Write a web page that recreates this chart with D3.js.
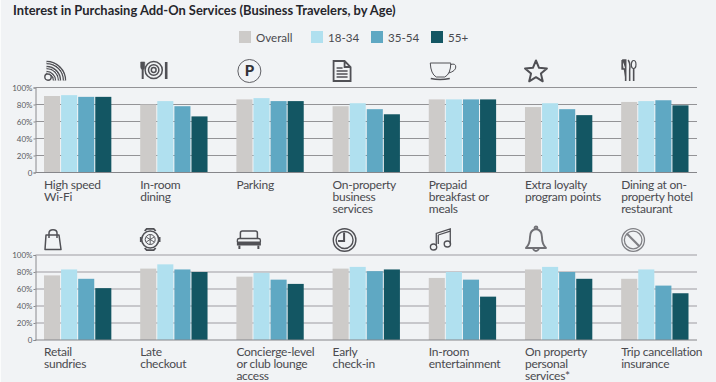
<!DOCTYPE html>
<html>
<head>
<meta charset="utf-8">
<script src="https://cdn.jsdelivr.net/npm/d3@7"></script>
<style>
    html, body { margin: 0; padding: 0; background: #f1f3f5; overflow: hidden; }
    svg { display: block; }
    text { font-family: Lato, sans-serif; }
</style>
</head>
<body>
<div id="chart"></div>
<script>
const seriesNames = ["Overall", "18-34", "35-54", "55+"];
const colors = ["#cdcbc9", "#b0e0ef", "#5fa8c3", "#135663"];
const yTicks = [0, 20, 40, 60, 80, 100];

const topLabels = [
    ["High speed", "Wi-Fi"],
    ["In-room", "dining"],
    ["Parking"],
    ["On-property", "business", "services"],
    ["Prepaid", "breakfast or", "meals"],
    ["Extra loyalty", "program points"],
    ["Dining at on-", "property hotel", "restaurant"]
];
const topValues = [
    [90, 91, 89, 89],
    [80, 84, 78, 66],
    [86, 87.5, 84, 84],
    [78, 81.5, 74.5, 68.5],
    [86, 86, 86, 86],
    [77, 81.5, 74.5, 67.5],
    [83, 84, 85, 79]
];
const bottomLabels = [
    ["Retail", "sundries"],
    ["Late", "checkout"],
    ["Concierge-level", "or club lounge", "access"],
    ["Early", "check-in"],
    ["In-room", "entertainment"],
    ["On property", "personal", "services*"],
    ["Trip cancellation", "insurance"]
];
const bottomValues = [
    [76, 83, 72, 61],
    [84, 89, 83, 80],
    [74.5, 79, 71, 66],
    [84, 86, 81, 83],
    [73, 80, 71, 51],
    [83, 86, 80, 72],
    [72, 83, 64, 55]
];

const width = 716, height = 382;
const ink = "#4a4a4f";
const bg = "#f1f3f5";

const svg = d3.select("#chart").append("svg")
    .attr("width", width)
    .attr("height", height);

svg.append("rect").attr("width", width).attr("height", height).attr("fill", bg);
svg.append("rect").attr("width", 1).attr("height", height).attr("fill", "#fbfcfc");

svg.append("text")
    .attr("x", 13)
    .attr("y", 15)
    .attr("font-size", 12.9)
    .attr("font-weight", 700)
    .attr("fill", "#26262c")
    .text("Interest in Purchasing Add-On Services (Business Travelers, by Age)");

// Legend
const legendX = [239, 311, 371, 431];
const legend = svg.append("g").selectAll("g")
    .data(seriesNames)
    .enter().append("g")
    .attr("transform", (d, i) => `translate(${legendX[i]},31)`);
legend.append("rect")
    .attr("width", 12).attr("height", 12)
    .attr("fill", (d, i) => colors[i]);
legend.append("text")
    .attr("x", 17).attr("y", 11)
    .attr("font-size", 11.6)
    .attr("fill", ink)
    .text(d => d);

// Icons are drawn in their own local pixels, origin at the top-left of the icon
const stroke = (g, w, color) => g.attr("fill", "none").attr("stroke", color || "#505055").attr("stroke-width", w || 1.4);
const icons = {
    wifi(g) {
        stroke(g, 1.4);
        g.append("circle").attr("cx", 4).attr("cy", 16).attr("r", 3.2);
        [8, 13, 18].forEach(r => {
            const arc = `M2.5 ${19.5 - r} A${r} ${r} 0 0 1 ${2.5 + r} 19.5`;
            g.append("path").attr("d", arc).attr("stroke-width", 3.4);
            g.append("path").attr("d", arc).attr("stroke-width", 1).attr("stroke", bg);
        });
    },
    plate(g) {
        stroke(g, 1.5);
        g.append("circle").attr("cx", 13.5).attr("cy", 9).attr("r", 8.6);
        g.append("circle").attr("cx", 13.5).attr("cy", 9).attr("r", 5.2);
        g.append("circle").attr("cx", 13.5).attr("cy", 9).attr("r", 2.4);
        g.append("path").attr("d", "M.5 1V6Q.5 8.5 2.5 8.5Q4.5 8.5 4.5 6V1Z").attr("fill", "#505055").attr("stroke-width", .6);
        g.append("path").attr("d", "M2.5 8V18").attr("stroke-width", 2);
        g.append("path").attr("d", "M26 1V18").attr("stroke-width", 2.6);
    },
    parking(g) {
        stroke(g, 1, "#606065");
        g.append("circle").attr("cx", 12).attr("cy", 12).attr("r", 11.5);
        g.append("text").attr("x", 12).attr("y", 17).attr("text-anchor", "middle")
            .attr("font-size", 15).attr("font-weight", 900).attr("fill", "#333338").attr("stroke", "none").text("P");
    },
    doc(g) {
        stroke(g, 1.8);
        g.append("path").attr("d", "M1 1H12L18 7V21H1ZM12 1V7H18");
        g.append("path").attr("d", "M4 8H10M4 11H15M4 14H15M4 17H15").attr("stroke-width", 1.3);
    },
    cup(g) {
        stroke(g, 1);
        g.append("path").attr("d", "M0.5 1H21Q21 12 15 15H6.5Q1 12 .5 1Z");
        g.append("path").attr("d", "M21 2.5Q26 1 26 5Q26 9 19 11");
        g.append("path").attr("d", "M1 16.5Q10 18.5 20 16.5").attr("stroke-width", 1.6);
    },
    star(g) {
        stroke(g, 2);
        g.append("path").attr("d", d3.lineRadial().curve(d3.curveLinearClosed)(
            d3.range(10).map(i => [i * Math.PI / 5, i % 2 ? 5.2 : 11.5])))
            .attr("transform", "translate(11,12)")
            .attr("stroke-linejoin", "round");
    },
    cutlery(g) {
        stroke(g, 1.6);
        g.append("path").attr("d", "M1 0H4.5V21M1 0V9H4.5").attr("fill", "#505055");
        g.append("path").attr("d", "M7 0Q9.5 4 8.5 10V21").attr("stroke-width", 1.5);
        g.append("ellipse").attr("cx", 12.5).attr("cy", 4.5).attr("rx", 2.3).attr("ry", 4).attr("stroke-width", 1.2);
        g.append("path").attr("d", "M12.5 8.5V21");
    },
    bag(g) {
        stroke(g, 1.5);
        g.append("path").attr("d", "M2 6H15L17 20.5H1Z").attr("stroke-linejoin", "round");
        g.append("path").attr("d", "M5 9V4Q5 .7 9 .7Q13 .7 13 4V9");
    },
    watch(g) {
        stroke(g, 1.6);
        g.append("circle").attr("cx", 10).attr("cy", 11.5).attr("r", 8.5);
        g.append("circle").attr("cx", 10).attr("cy", 11.5).attr("r", 5).attr("stroke-width", 1);
        g.append("path").attr("d", "M4.5 3L6.5 .8H13.5L15.5 3M4.5 20L6.5 22.2H13.5L15.5 20").attr("stroke-width", 1.8);
        g.append("path").attr("d", "M.6 9V14M19.4 9V14").attr("stroke-width", 1.8);
        g.append("path").attr("d", "M6 9L14 14M14 9L6 14M10 7V16").attr("stroke-width", .9);
    },
    bed(g) {
        stroke(g, 1.5);
        g.append("path").attr("d", "M4 9V3Q4 1 6 1H19Q21 1 21 3V9");
        g.append("path").attr("d", "M1 12V10Q1 8.5 3 8.5H22Q24 8.5 24 10V12").attr("stroke-width", 1.3);
        g.append("path").attr("d", "M.5 11.5H24.5V15.5H.5Z").attr("fill", "#505055").attr("stroke", "none");
        g.append("path").attr("d", "M3 15.5V19M22 15.5V19").attr("stroke-width", 2);
    },
    clock(g) {
        stroke(g, 1.4);
        g.append("circle").attr("cx", 12).attr("cy", 12).attr("r", 11.3);
        g.append("circle").attr("cx", 12).attr("cy", 12).attr("r", 8.5);
        g.append("path").attr("d", "M11.5 4.5V13H5.5").attr("stroke-width", 2);
    },
    music(g) {
        stroke(g, 1.3);
        g.append("path").attr("d", "M6.5 18V5.5L20.5 1V16");
        g.append("ellipse").attr("cx", 3.8).attr("cy", 19).attr("rx", 3.2).attr("ry", 3);
        g.append("ellipse").attr("cx", 17.6).attr("cy", 16).attr("rx", 3.2).attr("ry", 3);
        g.append("path").attr("d", "M8.5 7V16M8.5 7L20.5 3.2");
    },
    bell(g) {
        stroke(g, 1.9, "#707075");
        g.append("path").attr("d", "M11 3Q5 4 5 11Q5 18 1 22H21Q17 18 17 11Q17 4 11 3Z").attr("stroke-linejoin", "round");
        g.append("circle").attr("cx", 11).attr("cy", 1.8).attr("r", 1.4);
        g.append("path").attr("d", "M8 23Q11 27 14 23");
    },
    no(g) {
        stroke(g, 1.3, "#808085");
        g.append("circle").attr("cx", 12).attr("cy", 12).attr("r", 11.3);
        g.append("circle").attr("cx", 12).attr("cy", 12).attr("r", 8.8);
        g.append("path").attr("d", "M5.8 5.8L18.2 18.2").attr("stroke-width", 2.2);
    }
};

const x0 = d3.scaleBand().domain(d3.range(7)).range([44, 688.5]).paddingInner(0.3);
const x1 = d3.scaleBand().domain(d3.range(4)).range([0, x0.bandwidth()]).paddingInner(0.06);

function drawPanel(opts) {
    const y = d3.scaleLinear().domain([0, 100]).range([opts.y0, opts.y0 - 85]);
    const panel = svg.append("g");

    // Grid
    panel.selectAll(".grid")
        .data(yTicks.filter(d => d > 0))
        .enter().append("line")
        .attr("x1", 35.5).attr("x2", 697)
        .attr("y1", d => y(d)).attr("y2", d => y(d))
        .attr("stroke", opts.gridColor)
        .attr("stroke-width", opts.gridWidth);

    // Bars
    const groups = panel.selectAll(".group")
        .data(opts.values)
        .enter().append("g")
        .attr("transform", (d, i) => `translate(${x0(i)},0)`);
    groups.selectAll("rect")
        .data(d => d)
        .enter().append("rect")
        .attr("x", (d, i) => x1(i))
        .attr("width", x1.bandwidth())
        .attr("y", d => y(d))
        .attr("height", d => y(0) - y(d))
        .attr("fill", (d, i) => colors[i]);

    // Axes
    const yAxis = d3.axisLeft(y).tickValues(yTicks).tickSize(2)
        .tickFormat(d => d === 0 ? "0" : d + "%");
    const axisG = panel.append("g").attr("transform", "translate(35.5,0)").call(yAxis);
    axisG.selectAll("path, line").attr("stroke", "#8a8a8e");
    axisG.selectAll("text").attr("font-size", 8).attr("fill", "#5a5a60").attr("x", -3);
    panel.append("line")
        .attr("x1", 35.5).attr("x2", 697)
        .attr("y1", y(0)).attr("y2", y(0))
        .attr("stroke", "#86868a").attr("stroke-width", 1);

    // Category labels
    const labels = panel.selectAll(".label")
        .data(opts.labels)
        .enter().append("text")
        .attr("x", (d, i) => x0(i))
        .attr("y", y(0) + 16)
        .attr("font-size", 12)
        .attr("letter-spacing", -0.25)
        .attr("fill", ink);
    labels.selectAll("tspan")
        .data(d => d)
        .enter().append("tspan")
        .attr("x", function() { return d3.select(this.parentNode).attr("x"); })
        .attr("dy", (d, i) => i ? 12 : 0)
        .text(d => d);

    // Icons
    opts.icons.forEach((name, i) => {
        const g = panel.append("g")
            .attr("transform", `translate(${x0(i) + opts.iconDx[i]},${opts.iconY[i]})`);
        icons[name](g);
    });
}

drawPanel({
    y0: 172.5,
    values: topValues,
    labels: topLabels,
    gridColor: "#939396",
    gridWidth: 1,
    icons: ["wifi", "plate", "parking", "doc", "cup", "star", "cutlery"],
    iconDx: [0, 0, 1, 0, 1, 0, 0],
    iconY: [61, 61, 59, 60, 62, 60, 60]
});
drawPanel({
    y0: 340,
    values: bottomValues,
    labels: bottomLabels,
    gridColor: "#b8b8bc",
    gridWidth: 1.4,
    icons: ["bag", "watch", "bed", "clock", "music", "bell", "no"],
    iconDx: [0, 0, 0, 0, 1, 0, 0],
    iconY: [229, 228, 230, 228, 228, 226, 228]
});
</script>
</body>
</html>
